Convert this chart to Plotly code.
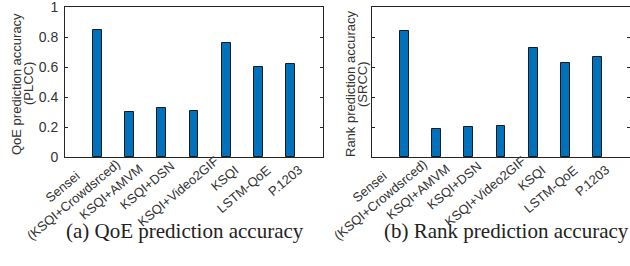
import math
import plotly.graph_objects as go

methods = ["Sensei<br>(KSQI+Crowdsrced)", "KSQI+AMVM", "KSQI+DSN", "KSQI+Video2GIF",
           "KSQI", "LSTM-QoE", "P.1203"]
plcc = [0.85, 0.30, 0.33, 0.31, 0.76, 0.60, 0.62]
srcc = [0.84, 0.19, 0.20, 0.21, 0.73, 0.63, 0.67]
positions = [1, 2, 3, 4, 5, 6, 7]
y_ticks = [0, 0.2, 0.4, 0.6, 0.8, 1]
y_ticklabels = ["0", "0.2", "0.4", "0.6", "0.8", "1"]

# label placement (pixel offsets of the end of each rotated label, relative to its bar)
label_dx = [18, 8, 7, 19, 6, 6, 6]
label_top = [154, 159, 157, 152, 161, 161, 160]

W, H = 630, 266
BLUE = "#0072BD"
AX = "#262626"
TXT = "#333333"
FONT = "Liberation Sans, Arial"
ANG = 40
LH = 15.5  # approx. line height of label text

fig = go.Figure()
for xa, ya, vals in (("x", "y", plcc), ("x2", "y2", srcc)):
    fig.add_trace(go.Bar(x=positions, y=vals, width=0.27,
                         marker=dict(color=BLUE, line=dict(color="#1a1a1a", width=1)),
                         xaxis=xa, yaxis=ya, showlegend=False))

y0, y1 = 1 - 157 / H, 1 - 7 / H
common_x = dict(range=[0, 8], tickmode="array", tickvals=positions, showticklabels=False,
                showline=True, linecolor=AX, linewidth=1, mirror=True,
                ticks="", showgrid=False, zeroline=False, automargin=False)
common_y = dict(range=[0, 1], tickmode="array", tickvals=y_ticks,
                showline=True, linecolor=AX, linewidth=1, mirror="ticks", automargin=False,
                ticks="inside", ticklen=3, tickcolor=AX, showgrid=False, zeroline=False,
                ticklabeloverflow="allow", ticklabelstandoff=3,
                tickfont=dict(family=FONT, size=14, color=TXT))

annotations = []
s, c = math.sin(math.radians(ANG)), math.cos(math.radians(ANG))
for xref in ("x", "x2"):
    for i, (lab, p) in enumerate(zip(methods, positions)):
        n = lab.count("<br>") + 1
        top = label_top[i] - (n - 1) * LH * c
        annotations.append(dict(
            text=lab, x=p, xref=xref, y=1 - top / H, yref="paper",
            xanchor="right", yanchor="top", xshift=label_dx[i] + LH * s,
            textangle=-ANG, showarrow=False, borderpad=0, align="center",
            font=dict(family=FONT, size=13, color=TXT)))

# y-axis titles (two tight lines each)
for xpx, txt in ((16, "QoE prediction accuracy"), (28, "(PLCC)"),
                 (350, "Rank prediction accuracy"), (362, "(SRCC)")):
    annotations.append(dict(text=txt, x=xpx / W, y=1 - 84 / H, xref="paper", yref="paper",
                            xanchor="center", yanchor="middle", textangle=-90, showarrow=False,
                            borderpad=0, font=dict(family=FONT, size=13, color=TXT)))

for xpx, txt in ((185, "(a) QoE prediction accuracy"), (506, "(b) Rank prediction accuracy")):
    annotations.append(dict(text=txt, x=xpx / W, y=1 - 231 / H, xref="paper", yref="paper",
                            showarrow=False, xanchor="center", yanchor="middle",
                            font=dict(family="Liberation Serif, Times New Roman", size=21, color="#222")))

fig.update_layout(
    width=W, height=H, margin=dict(l=0, r=0, t=0, b=0),
    plot_bgcolor="white", paper_bgcolor="white", bargap=0,
    xaxis=dict(domain=[65 / W, 323 / W], anchor="y", **common_x),
    yaxis=dict(domain=[y0, y1], anchor="x", ticktext=y_ticklabels, **common_y),
    xaxis2=dict(domain=[372 / W, 1.0], anchor="y2", **common_x),
    yaxis2=dict(domain=[y0, y1], anchor="x2", ticktext=[""] * len(y_ticks), **common_y),
    annotations=annotations,
)

fig.write_html("out.html", config={"displayModeBar": False},
               post_script="document.body.style.margin='0';document.body.style.overflow='hidden';")
